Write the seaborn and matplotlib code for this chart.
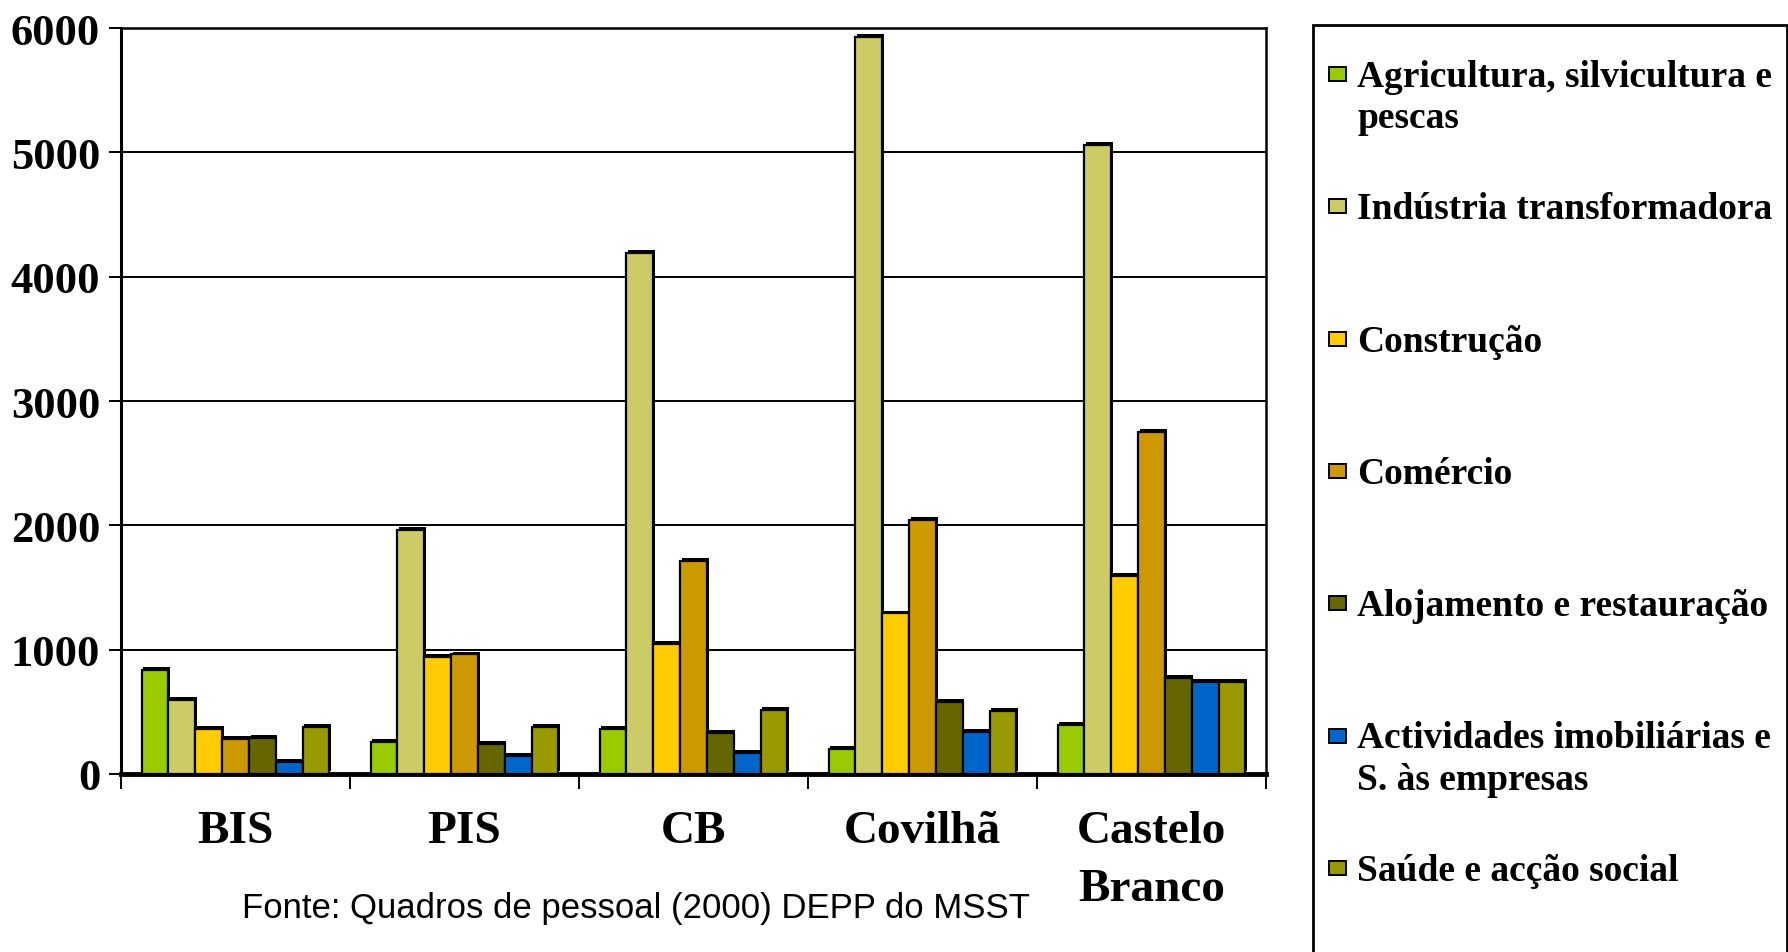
import matplotlib
matplotlib.use("Agg")
import matplotlib.pyplot as plt
import seaborn as sns
import pandas as pd
from matplotlib import patheffects as pe
from matplotlib.patches import Rectangle

# ---------------- data ----------------
regions = ["BIS", "PIS", "CB", "Covilhã", "Castelo\nBranco"]
sectors = [
    "Agricultura, silvicultura e\npescas",
    "Indústria transformadora",
    "Construção",
    "Comércio",
    "Alojamento e restauração",
    "Actividades imobiliárias e\nS. às empresas",
    "Saúde e acção social",
]
agricultura = [838, 258, 360, 205, 392]
industria = [595, 1965, 4190, 5930, 5060]
construcao = [362, 940, 1048, 1292, 1595]
comercio = [282, 962, 1716, 2044, 2752]
alojamento = [292, 242, 332, 578, 772]
actividades = [95, 145, 172, 338, 738]
saude = [378, 378, 516, 508, 738]
colors = ["#99CC00", "#CCCC66", "#FFCC00", "#CC9900", "#666600", "#0066CC", "#999900"]
yticks = [0, 1000, 2000, 3000, 4000, 5000, 6000]
source = "Fonte: Quadros de pessoal (2000) DEPP do MSST"

series = [agricultura, industria, construcao, comercio, alojamento, actividades, saude]
rows = []
for s, vals in zip(sectors, series):
    for r, v in zip(regions, vals):
        rows.append({"Região": r, "Sector": s, "Valor": v})
df = pd.DataFrame(rows)

# ---------------- figure ----------------
sns.set_theme(style="white")
serif = ["Liberation Serif", "DejaVu Serif"]
plt.rcParams["font.family"] = serif
plt.rcParams["text.color"] = "black"
plt.rcParams["xtick.color"] = "black"
plt.rcParams["ytick.color"] = "black"
plt.rcParams["xtick.labelcolor"] = "black"
plt.rcParams["ytick.labelcolor"] = "black"

W, H = 1788, 953
fig = plt.figure(figsize=(W / 100, H / 100), dpi=100)
ax = fig.add_axes([121 / W, 1 - 775 / H, (1266 - 121) / W, (775 - 29) / H])

sns.barplot(data=df, x="Região", y="Valor", hue="Sector", order=regions,
            hue_order=sectors, palette=colors, width=0.82, dodge=True,
            edgecolor="black", linewidth=1.6, saturation=1, errorbar=None,
            legend=False, ax=ax, zorder=3)

shadow = [pe.SimplePatchShadow(offset=(1.2, 2.0), shadow_rgbFace="black", alpha=1.0),
          pe.Normal()]
for p in ax.patches:
    p.set_path_effects(shadow)

ax.set_ylim(0, 6000)
ax.set_xlim(-0.5, len(regions) - 0.5)
ax.set_yticks(yticks)
ax.set_yticklabels([str(t) for t in yticks])
ax.yaxis.grid(True, color="black", linewidth=1.4, zorder=0)
ax.set_axisbelow(True)
ax.set_xlabel("")
ax.set_ylabel("")

for side in ["top", "right"]:
    ax.spines[side].set_visible(True)
    ax.spines[side].set_color("black")
    ax.spines[side].set_linewidth(1.8)
ax.spines["left"].set_color("black")
ax.spines["left"].set_linewidth(2.2)
ax.spines["bottom"].set_color("black")
ax.spines["bottom"].set_linewidth(3.5)

ax.tick_params(axis="y", which="major", direction="out", length=9, width=1.4,
               color="black", labelcolor="black", pad=6, labelsize=32, left=True)
for lab in ax.get_yticklabels():
    lab.set_fontweight("bold")
    lab.set_family(serif)

ax.set_xticks(range(len(regions)))
ax.set_xticklabels(regions, fontsize=34, fontweight="bold", family=serif,
                   linespacing=1.5, color="black")
ax.set_xticks([i - 0.5 for i in range(len(regions) + 1)], minor=True)
ax.tick_params(axis="x", which="major", length=0, pad=26, labelcolor="black")
ax.tick_params(axis="x", which="minor", direction="out", length=11, width=1.4,
               color="black", bottom=True)

# ---------------- source note ----------------
fig.text(636 / W, 1 - 909 / H, source, ha="center", va="center", fontsize=25,
         color="black", family=["Liberation Sans", "DejaVu Sans"])

# ---------------- legend (boxed, fixed slots) ----------------
box = Rectangle((1313 / W, -0.05), (1787 - 1313) / W, (1 - 26 / H) + 0.05,
                transform=fig.transFigure, facecolor="white", edgecolor="black",
                linewidth=2, clip_on=False)
fig.patches.append(box)
slot0 = 75
step = 132.3
for i, (lab, col) in enumerate(zip(sectors, colors)):
    yc = slot0 + i * step
    sw = Rectangle((1329 / W, 1 - (yc + 7) / H), 17 / W, 14 / H,
                   transform=fig.transFigure, facecolor=col, edgecolor="black",
                   linewidth=1.4)
    fig.patches.append(sw)
    fig.text(1357 / W, 1 - (yc - 15) / H, lab, ha="left", va="top",
             fontsize=27, fontweight="bold", family=serif, linespacing=1.23,
             color="black")

fig.savefig("out.png", dpi=100)
